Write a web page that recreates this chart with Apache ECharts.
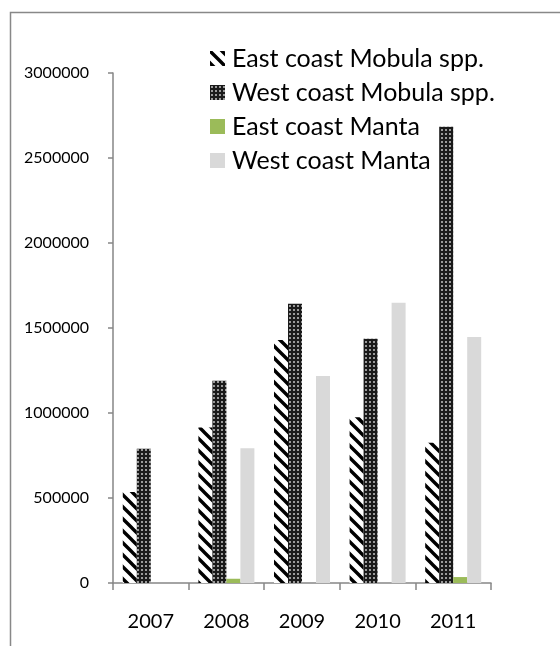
<!DOCTYPE html>
<html>
<head>
<meta charset="utf-8">
<script src="https://cdn.jsdelivr.net/npm/echarts@6/dist/echarts.min.js"></script>
<style>
html,body{margin:0;padding:0;background:#fff;}
#chart{width:560px;height:646px;}
</style>
</head>
<body>
<div id="chart"></div>
<script>
var years = ['2007', '2008', '2009', '2010', '2011'];
var seriesNames = ['East coast Mobula spp.', 'West coast Mobula spp.', 'East coast Manta', 'West coast Manta'];
var eastMobula = [535000, 915000, 1430000, 975000, 825000];
var westMobula = [790000, 1190000, 1642000, 1437000, 2684000];
var eastManta = [0, 25000, 0, 0, 35000];
var westManta = [0, 792000, 1218000, 1648000, 1447000];
var yTicks = [0, 500000, 1000000, 1500000, 2000000, 2500000, 3000000];

function stripePattern() {
  var c = document.createElement('canvas');
  c.width = 12; c.height = 12;
  var g = c.getContext('2d');
  g.fillStyle = '#ffffff';
  g.fillRect(0, 0, 12, 12);
  g.strokeStyle = '#000000';
  g.lineWidth = 3.4;
  g.beginPath();
  g.moveTo(-3, -3); g.lineTo(15, 15);
  g.moveTo(-3, 9); g.lineTo(3, 15);
  g.moveTo(9, -3); g.lineTo(15, 3);
  g.stroke();
  return c;
}
function dotPattern() {
  var c = document.createElement('canvas');
  c.width = 4; c.height = 4;
  var g = c.getContext('2d');
  g.fillStyle = '#1a1a1a';
  g.fillRect(0, 0, 4, 4);
  g.fillStyle = '#9a9a9a';
  g.fillRect(1, 1, 2, 2);
  return c;
}

var chart = echarts.init(document.getElementById('chart'), null, {renderer: 'canvas'});
var font = 'Lato, "Open Sans", sans-serif';
var colors = [
  {image: stripePattern(), repeat: 'repeat'},
  {image: dotPattern(), repeat: 'repeat'},
  '#9BBB59',
  '#D9D9D9'
];
var dataSets = [eastMobula, westMobula, eastManta, westManta];

chart.setOption({
  animation: false,
  backgroundColor: '#ffffff',
  graphic: [{
    type: 'rect',
    shape: {x: 10.5, y: 12.5, width: 620, height: 700},
    style: {fill: 'none', stroke: '#888888', lineWidth: 1.5},
    z: -1
  }],
  legend: {
    orient: 'vertical',
    left: 210,
    top: 46,
    padding: 0,
    itemWidth: 15,
    itemHeight: 15,
    itemGap: 9,
    icon: 'rect',
    data: seriesNames,
    textStyle: {fontFamily: font, fontSize: 25, color: '#000', lineHeight: 25, padding: [0, 0, 0, 2]}
  },
  grid: {left: 113, right: 69, top: 73, bottom: 63, containLabel: false},
  xAxis: {
    type: 'category',
    data: years,
    axisLine: {lineStyle: {color: '#868686', width: 1.5}},
    axisTick: {show: true, length: 7, lineStyle: {color: '#868686', width: 1.5}},
    axisLabel: {fontFamily: font, fontSize: 20, color: '#000', margin: 29}
  },
  yAxis: {
    type: 'value',
    min: yTicks[0],
    max: yTicks[yTicks.length - 1],
    interval: yTicks[1] - yTicks[0],
    axisLine: {show: true, lineStyle: {color: '#868686', width: 1.5}},
    axisTick: {show: true, length: 5, lineStyle: {color: '#868686', width: 1.5}},
    splitLine: {show: false},
    axisLabel: {fontFamily: font, fontSize: 16, color: '#000', margin: 24, formatter: function (v) { return String(v); }}
  },
  series: seriesNames.map(function (n, i) {
    return {
      name: n,
      type: 'bar',
      data: dataSets[i],
      barWidth: 14,
      barGap: '0%',
      itemStyle: {color: colors[i]}
    };
  })
});
</script>
</body>
</html>
